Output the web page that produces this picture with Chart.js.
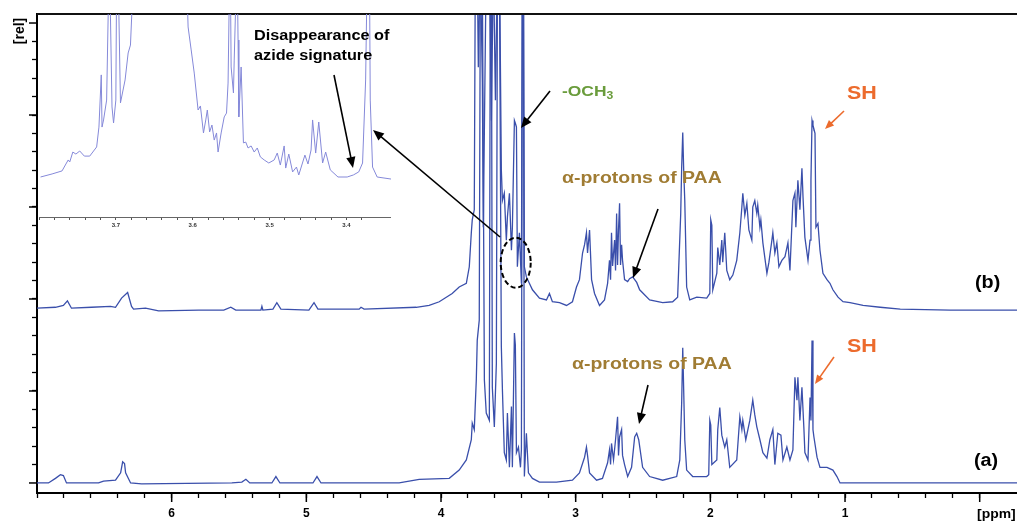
<!DOCTYPE html>
<html>
<head>
<meta charset="utf-8">
<script src="https://cdn.jsdelivr.net/npm/chart.js@4.4.1/dist/chart.umd.min.js"></script>
<style>
  body { margin: 0; background: #fff; }
  #wrap { position: relative; width: 1017px; height: 521px; overflow: hidden;
          font-family: Arial, "Liberation Sans", Helvetica, sans-serif; }
  canvas { position: absolute; }
  #main { left: 0; top: 0; }
  #inset { left: 37px; top: 14px; }
  .lbl { position: absolute; font-weight: bold; white-space: nowrap; line-height: 1;
         transform-origin: left top; transform: scaleX(1.16); }
  .lbl sub { font-size: 70%; vertical-align: -0.25em; }
</style>
</head>
<body>
<div id="wrap">
  <canvas id="main" width="1017" height="521"></canvas>
  <canvas id="inset" width="354" height="220"></canvas>

  <div class="lbl" style="left:254px; top:27.5px; font-size:14px;">Disappearance of</div>
  <div class="lbl" style="left:254px; top:48.2px; font-size:14px;">azide signature</div>
  <div class="lbl" style="left:562px; top:83px; font-size:15px; color:#6a9c3c;">-OCH<sub>3</sub></div>
  <div class="lbl" style="left:562px; top:169.8px; font-size:16.8px; color:#a07c33;">α-protons of PAA</div>
  <div class="lbl" style="left:572px; top:355.8px; font-size:16.8px; color:#a07c33;">α-protons of PAA</div>
  <div class="lbl" style="left:847px; top:83.6px; font-size:18.5px; color:#ec6b2d;">SH</div>
  <div class="lbl" style="left:847px; top:336.9px; font-size:18.5px; color:#ec6b2d;">SH</div>
  <div class="lbl" style="left:975px; top:272.9px; font-size:18px; transform:scaleX(1.1);">(b)</div>
  <div class="lbl" style="left:974px; top:450.9px; font-size:18px; transform:scaleX(1.1);">(a)</div>
  <div class="lbl" style="left:977px; top:507.6px; font-size:12px;">[ppm]</div>
  <div class="lbl" style="left:19px; top:31px; font-size:14px; transform:translate(-50%,-50%) rotate(-90deg); transform-origin:center;">[rel]</div>
</div>

<script>
// spectrum (a): chemical shift (ppm) and intensity (rel, from its own baseline)
const ppmA = [
  7.012, 6.915, 6.863, 6.826, 6.804, 6.781, 6.543, 6.506, 6.417, 6.379,
  6.364, 6.350, 6.342, 6.305, 6.223, 5.553, 5.479, 5.449, 5.420, 5.256,
  5.226, 5.196, 4.951, 4.921, 4.891, 4.556, 4.311, 4.162, 3.939, 3.865,
  3.812, 3.775, 3.768, 3.753, 3.738, 3.731, 3.716, 3.708, 3.693, 3.678,
  3.664, 3.641, 3.634, 3.626, 3.619, 3.604, 3.589, 3.581, 3.566, 3.552,
  3.544, 3.530, 3.515, 3.507, 3.492, 3.477, 3.470, 3.455, 3.448, 3.440,
  3.425, 3.410, 3.403, 3.396, 3.388, 3.381, 3.366, 3.351, 3.321, 3.269,
  3.143, 3.024, 2.972, 2.934, 2.920, 2.912, 2.897, 2.845, 2.801, 2.763,
  2.749, 2.741, 2.734, 2.719, 2.704, 2.689, 2.682, 2.674, 2.659, 2.652,
  2.637, 2.614, 2.585, 2.562, 2.547, 2.532, 2.503, 2.451, 2.354, 2.250,
  2.227, 2.213, 2.205, 2.198, 2.190, 2.176, 2.131, 2.027, 2.012, 2.004,
  1.997, 1.989, 1.952, 1.945, 1.930, 1.915, 1.893, 1.878, 1.856, 1.804,
  1.781, 1.766, 1.759, 1.737, 1.707, 1.685, 1.670, 1.655, 1.632, 1.610,
  1.580, 1.558, 1.536, 1.521, 1.499, 1.476, 1.461, 1.432, 1.409, 1.387,
  1.372, 1.357, 1.350, 1.335, 1.320, 1.305, 1.298, 1.275, 1.260, 1.253,
  1.245, 1.238, 1.231, 1.208, 1.186, 1.134, 1.090, 1.060, 1.037, 0.866,
  0.590, -0.280
];
const relA = [
  0.00, 0.00, 0.05, 0.09, 0.08, 0.00, 0.00, 0.02, 0.03, 0.11,
  0.23, 0.21, 0.11, 0.00, -0.01, 0.00, 0.01, 0.04, 0.00, 0.00,
  0.07, 0.00, 0.00, 0.07, 0.00, 0.00, 0.00, 0.04, 0.05, 0.14,
  0.25, 0.47, 0.65, 0.58, 1.12, 1.55, 1.77, 5.50, 5.50, 1.12,
  0.76, 0.68, 5.50, 5.50, 1.04, 0.61, 1.30, 5.50, 5.50, 1.48,
  1.01, 0.33, 0.25, 0.76, 0.17, 0.83, 0.17, 1.63, 1.50, 0.33,
  0.39, 0.17, 0.36, 5.50, 5.50, 0.07, 0.54, 0.11, 0.05, 0.01,
  0.01, 0.03, 0.11, 0.28, 0.39, 0.30, 0.11, 0.03, 0.05, 0.22,
  0.36, 0.20, 0.43, 0.25, 0.47, 0.72, 0.30, 0.50, 0.58, 0.30,
  0.20, 0.07, 0.17, 0.50, 0.54, 0.47, 0.17, 0.07, 0.03, 0.07,
  0.25, 0.87, 1.47, 1.01, 0.47, 0.14, 0.07, 0.07, 0.09, 0.68,
  0.63, 0.20, 0.25, 0.58, 0.82, 0.52, 0.39, 0.47, 0.17, 0.25,
  0.72, 0.58, 0.68, 0.47, 0.68, 0.90, 0.74, 0.61, 0.47, 0.33,
  0.27, 0.47, 0.58, 0.20, 0.54, 0.52, 0.25, 0.39, 0.25, 0.36,
  1.15, 0.90, 1.15, 0.68, 1.04, 0.58, 0.33, 0.25, 0.93, 0.68,
  1.55, 0.58, 0.50, 0.28, 0.17, 0.17, 0.14, 0.07, 0.00, 0.00,
  0.00, 0.00
];

// spectrum (b)
const ppmB = [
  7.012, 6.863, 6.804, 6.774, 6.744, 6.595, 6.454, 6.417, 6.372, 6.327,
  6.298, 6.283, 6.194, 6.097, 5.799, 5.613, 5.561, 5.524, 5.337, 5.330,
  5.323, 5.248, 5.219, 5.189, 4.981, 4.943, 4.914, 4.608, 4.594, 4.571,
  4.184, 4.088, 4.013, 3.917, 3.865, 3.812, 3.790, 3.775, 3.768, 3.753,
  3.745, 3.731, 3.723, 3.708, 3.693, 3.686, 3.664, 3.641, 3.626, 3.611,
  3.596, 3.581, 3.566, 3.552, 3.544, 3.530, 3.515, 3.507, 3.492, 3.477,
  3.470, 3.455, 3.448, 3.440, 3.433, 3.418, 3.403, 3.396, 3.388, 3.381,
  3.366, 3.344, 3.321, 3.269, 3.217, 3.195, 3.173, 3.120, 3.068, 3.024,
  2.994, 2.972, 2.949, 2.934, 2.920, 2.912, 2.897, 2.882, 2.860, 2.823,
  2.786, 2.763, 2.749, 2.741, 2.734, 2.726, 2.711, 2.704, 2.696, 2.689,
  2.682, 2.674, 2.667, 2.659, 2.652, 2.637, 2.614, 2.600, 2.577, 2.547,
  2.525, 2.451, 2.354, 2.280, 2.243, 2.220, 2.213, 2.205, 2.198, 2.190,
  2.176, 2.153, 2.101, 2.027, 2.004, 1.997, 1.989, 1.982, 1.952, 1.945,
  1.930, 1.915, 1.908, 1.893, 1.878, 1.856, 1.833, 1.804, 1.781, 1.766,
  1.759, 1.744, 1.729, 1.714, 1.692, 1.685, 1.670, 1.655, 1.648, 1.632,
  1.625, 1.610, 1.580, 1.565, 1.543, 1.536, 1.521, 1.506, 1.491, 1.469,
  1.446, 1.424, 1.409, 1.387, 1.372, 1.365, 1.350, 1.335, 1.320, 1.312,
  1.298, 1.275, 1.260, 1.253, 1.245, 1.238, 1.223, 1.216, 1.201, 1.186,
  1.164, 1.134, 1.112, 1.090, 1.052, 1.015, 0.963, 0.866, 0.739, 0.590,
  0.219, -0.280
];
const relB = [
  0.01, 0.02, 0.04, 0.09, 0.01, 0.02, 0.03, 0.02, 0.12, 0.18,
  0.03, 0.00, 0.01, -0.02, -0.01, -0.01, 0.02, -0.01, -0.01, 0.03,
  -0.01, 0.00, 0.07, 0.00, -0.01, 0.07, 0.00, 0.00, 0.02, 0.00,
  0.02, 0.04, 0.08, 0.17, 0.24, 0.28, 0.46, 0.83, 0.97, 1.08,
  3.80, 3.80, 2.63, 3.80, 2.46, 0.89, 3.80, 3.80, 2.05, 3.80,
  2.27, 3.80, 3.80, 1.51, 1.18, 1.26, 0.75, 1.00, 1.26, 0.64,
  0.89, 2.05, 2.02, 1.98, 0.46, 0.83, 0.28, 3.80, 3.80, 0.46,
  0.35, 0.28, 0.21, 0.12, 0.10, 0.17, 0.08, 0.07, 0.04, 0.08,
  0.24, 0.32, 0.61, 0.70, 0.83, 0.61, 0.86, 0.32, 0.17, 0.04,
  0.10, 0.28, 0.53, 0.32, 0.83, 0.47, 0.75, 0.42, 1.04, 0.48,
  0.86, 1.15, 0.48, 0.70, 0.53, 0.32, 0.30, 0.33, 0.35, 0.29,
  0.21, 0.10, 0.07, 0.08, 0.13, 1.04, 1.54, 1.92, 1.51, 1.18,
  0.24, 0.10, 0.13, 0.12, 0.17, 0.97, 0.91, 0.21, 0.39, 0.67,
  0.48, 0.75, 0.51, 0.83, 0.42, 0.32, 0.37, 0.53, 0.83, 1.11,
  1.26, 1.02, 1.15, 0.86, 0.75, 1.11, 1.18, 1.04, 1.13, 0.89,
  0.97, 0.72, 0.39, 0.51, 0.75, 0.83, 0.61, 0.72, 0.46, 0.53,
  0.57, 0.72, 0.42, 1.18, 1.26, 0.89, 1.40, 1.08, 1.53, 1.22,
  0.78, 0.53, 0.75, 1.40, 2.05, 2.00, 1.91, 0.89, 0.93, 0.64,
  0.39, 0.32, 0.28, 0.21, 0.13, 0.08, 0.07, 0.04, 0.02, 0.00,
  -0.01, -0.01
];
const offsetB = 1.89;   // vertical stacking of trace (b)

// inset: zoom of (b) between 3.8 and 3.34 ppm
const ppmInset = [
  3.798, 3.783, 3.770, 3.765, 3.762, 3.760, 3.756, 3.752, 3.747, 3.741,
  3.734, 3.725, 3.722, 3.719, 3.718, 3.716, 3.712, 3.709, 3.708, 3.705,
  3.703, 3.700, 3.699, 3.697, 3.694, 3.688, 3.684, 3.681, 3.677, 3.608,
  3.606, 3.602, 3.598, 3.593, 3.590, 3.586, 3.583, 3.581, 3.578, 3.575,
  3.572, 3.569, 3.567, 3.563, 3.559, 3.556, 3.554, 3.552, 3.551, 3.550,
  3.547, 3.546, 3.543, 3.542, 3.541, 3.540, 3.537, 3.534, 3.531, 3.528,
  3.524, 3.520, 3.516, 3.512, 3.507, 3.501, 3.494, 3.490, 3.486, 3.481,
  3.479, 3.475, 3.470, 3.465, 3.462, 3.454, 3.450, 3.446, 3.444, 3.440,
  3.436, 3.431, 3.427, 3.421, 3.411, 3.399, 3.391, 3.384, 3.379, 3.375,
  3.373, 3.370, 3.369, 3.366, 3.360, 3.342
];
const relInset = [
  1.97, 2.12, 2.27, 2.61, 2.81, 2.71, 3.20, 3.10, 3.25, 3.00,
  3.00, 3.45, 4.43, 7.00, 4.43, 4.78, 5.76, 12.0, 12.0, 5.42,
  4.63, 5.76, 12.0, 12.0, 5.62, 6.75, 8.08, 8.47, 12.0, 12.0,
  9.36, 8.23, 7.09, 5.27, 5.47, 4.14, 4.78, 5.27, 4.19, 4.53,
  3.79, 4.14, 3.20, 4.14, 4.93, 5.12, 6.60, 12.0, 12.0, 7.39,
  6.11, 7.73, 12.0, 12.0, 8.72, 4.93, 7.39, 3.65, 3.69, 3.40,
  3.50, 3.20, 3.40, 2.96, 2.81, 2.66, 2.81, 3.15, 2.56, 3.50,
  2.41, 3.10, 2.22, 2.46, 2.07, 3.05, 2.61, 3.30, 4.78, 3.15,
  4.68, 2.66, 3.20, 2.32, 1.97, 1.97, 2.07, 2.22, 2.66, 6.75,
  12.0, 12.0, 5.76, 2.46, 1.97, 1.87
];

const xLabelTicks = [1, 2, 3, 4, 5, 6];
const xMajorTicks = [0, 1, 2, 3, 4, 5, 6];
const yMajorTicks = [0, 1, 2, 3, 4, 5];
const insetLabelTicks = [3.7, 3.6, 3.5, 3.4];

const lineColor = '#3a4fab';
const fontFam = 'Arial, "Liberation Sans", Helvetica, sans-serif';

const near = (v, list) => list.some(t => Math.abs(t - v) < 1e-6);
const onStep = (v, step) => Math.abs(v / step - Math.round(v / step)) < 1e-6;

const ptsA = ppmA.map((p, i) => ({ x: p, y: relA[i] }));
const ptsB = ppmB.map((p, i) => ({ x: p, y: relB[i] + offsetB }));
const ptsIn = ppmInset.map((p, i) => ({ x: p, y: relInset[i] }));

// frame, major tick marks and annotations
function arrow(ctx, x1, y1, x2, y2, color, w, head) {
    const a = Math.atan2(y2 - y1, x2 - x1);
    const c = Math.cos(a), s = Math.sin(a);
    ctx.strokeStyle = color;
    ctx.fillStyle = color;
    ctx.lineWidth = w;
    ctx.beginPath();
    ctx.moveTo(x1, y1);
    ctx.lineTo(x2 - head * 0.8 * c, y2 - head * 0.8 * s);
    ctx.stroke();
    ctx.beginPath();
    ctx.moveTo(x2, y2);
    ctx.lineTo(x2 - head * c + head * 0.42 * s, y2 - head * s - head * 0.42 * c);
    ctx.lineTo(x2 - head * c - head * 0.42 * s, y2 - head * s + head * 0.42 * c);
    ctx.closePath();
    ctx.fill();
}

const decor = {
    id: 'decor',
    afterDraw(chart) {
        const { ctx, chartArea, scales } = chart;
        ctx.save();
        // top frame line
        ctx.strokeStyle = '#111';
        ctx.lineWidth = 2;
        ctx.beginPath();
        ctx.moveTo(chartArea.left, chartArea.top);
        ctx.lineTo(chartArea.right, chartArea.top);
        ctx.stroke();
        // longer major ticks
        ctx.strokeStyle = '#000';
        ctx.lineWidth = 1.5;
        xMajorTicks.forEach(v => {
            const px = scales.x.getPixelForValue(v);
            ctx.beginPath();
            ctx.moveTo(px, chartArea.bottom);
            ctx.lineTo(px, chartArea.bottom + 9);
            ctx.stroke();
        });
        yMajorTicks.forEach(v => {
            const py = scales.y.getPixelForValue(v);
            ctx.beginPath();
            ctx.moveTo(chartArea.left - 8, py);
            ctx.lineTo(chartArea.left, py);
            ctx.stroke();
        });
        // arrows
        arrow(ctx, 334, 75, 353, 168, '#000', 1.6, 11);
        arrow(ctx, 500, 237, 373, 130, '#000', 1.6, 11);
        arrow(ctx, 550, 91, 521, 128, '#000', 1.6, 11);
        arrow(ctx, 658, 209, 633, 278, '#000', 1.6, 11);
        arrow(ctx, 648, 385, 639, 424, '#000', 1.6, 11);
        arrow(ctx, 844, 111, 825, 129, '#ec6b2d', 1.6, 9);
        arrow(ctx, 834, 357, 815, 384, '#ec6b2d', 1.6, 9);
        // dashed ellipse round the azide region
        ctx.setLineDash([5, 3]);
        ctx.strokeStyle = '#000';
        ctx.lineWidth = 2;
        ctx.beginPath();
        ctx.ellipse(515.7, 262.7, 15, 25, 0, 0, Math.PI * 2);
        ctx.stroke();
        ctx.restore();
    }
};

new Chart(document.getElementById('main'), {
    type: 'line',
    data: {
        datasets: [
            { label: '(a)', data: ptsA, borderColor: lineColor, borderWidth: 1.3, pointRadius: 0, tension: 0, clip: 0 },
            { label: '(b)', data: ptsB, borderColor: lineColor, borderWidth: 1.3, pointRadius: 0, tension: 0, clip: 0 }
        ]
    },
    options: {
        responsive: false,
        animation: false,
        devicePixelRatio: 1,
        parsing: false,
        layout: { padding: { top: 14, right: 0, left: 0, bottom: 0 } },
        plugins: { legend: { display: false }, tooltip: { enabled: false } },
        scales: {
            x: {
                type: 'linear',
                reverse: true,
                min: -0.277,
                max: 7.0,
                afterFit(scale) { scale.height = 28; },
                afterBuildTicks(scale) {
                    scale.ticks = scale.ticks.filter(t => onStep(t.value, 0.2) && t.value > -0.01);
                },
                ticks: {
                    stepSize: 0.2,
                    autoSkip: false,
                    maxRotation: 0,
                    padding: 8,
                    color: '#000',
                    font: { family: fontFam, weight: 'bold', size: 12 },
                    callback: v => near(v, xLabelTicks) ? String(Math.round(v)) : ''
                },
                grid: { drawOnChartArea: false, tickLength: 5, tickColor: '#000', tickWidth: 1.3 },
                border: { display: true, color: '#000', width: 2 }
            },
            y: {
                type: 'linear',
                min: -0.109,
                max: 5.098,
                afterFit(scale) { scale.width = 37; },
                afterBuildTicks(scale) {
                    scale.ticks = scale.ticks.filter(t => onStep(t.value, 0.2) && t.value > -0.01);
                },
                ticks: { display: false, stepSize: 0.2, autoSkip: false },
                grid: { drawOnChartArea: false, tickLength: 5, tickColor: '#000', tickWidth: 1.3 },
                border: { display: true, color: '#000', width: 2 }
            }
        }
    },
    plugins: [decor]
});

new Chart(document.getElementById('inset'), {
    type: 'line',
    data: {
        datasets: [
            { label: 'inset (b)', data: ptsIn, borderColor: '#8589d9', borderWidth: 1, pointRadius: 0, tension: 0, clip: 0 }
        ]
    },
    options: {
        responsive: false,
        animation: false,
        devicePixelRatio: 1,
        parsing: false,
        layout: { padding: 0 },
        plugins: { legend: { display: false }, tooltip: { enabled: false } },
        scales: {
            x: {
                type: 'linear',
                reverse: true,
                min: 3.342,
                max: 3.8,
                afterFit(scale) { scale.height = 17; },
                afterBuildTicks(scale) {
                    scale.ticks = scale.ticks.filter(t => onStep(t.value, 0.02));
                },
                ticks: {
                    stepSize: 0.02,
                    autoSkip: false,
                    maxRotation: 0,
                    padding: 2,
                    color: '#333',
                    font: { family: fontFam, weight: 'bold', size: 6 },
                    callback: v => near(v, insetLabelTicks) ? v.toFixed(1) : ''
                },
                grid: { drawOnChartArea: false, tickLength: 3, tickColor: '#555', tickWidth: 1 },
                border: { display: true, color: '#666', width: 1 }
            },
            y: { display: false, min: 0, max: 10 }
        }
    }
});
</script>
</body>
</html>
